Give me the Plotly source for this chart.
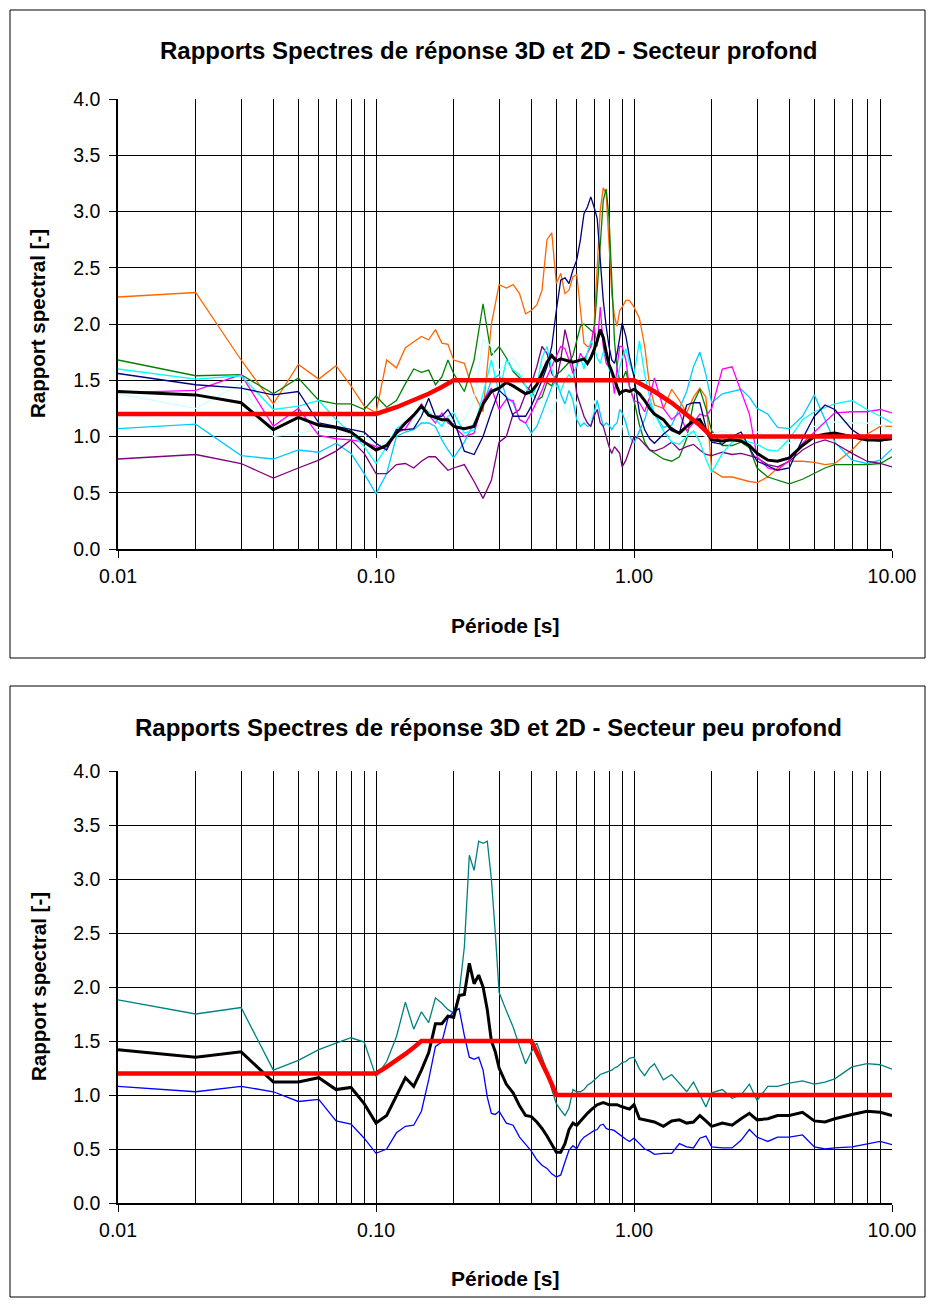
import plotly.graph_objects as go

# ---------------- DATA ----------------
P_TOP = [0.01,0.02,0.03,0.04,0.05,0.06,0.07,0.08,0.09,0.10,
         0.11,0.12,0.13,0.14,0.15,0.16,0.17,0.18,0.19,0.20,
         0.22,0.24,0.26,0.28,0.30,0.32,0.34,0.36,0.38,0.40,
         0.42,0.44,0.46,0.48,0.50,0.52,0.54,0.56,0.58,0.60,
         0.62,0.64,0.66,0.68,0.70,0.72,0.74,0.76,0.78,0.80,
         0.82,0.84,0.86,0.88,0.90,0.93,0.96,1.00,
         1.05,1.10,1.15,1.20,1.30,1.40,1.50,1.60,1.70,1.80,1.90,2.00,
         2.20,2.40,2.60,2.80,3.00,3.30,3.60,4.00,4.50,5.00,5.50,6.00,7.00,8.00,9.00,10.0]

TOP_ORANGE = [2.24,2.28,1.68,1.29,1.64,1.51,1.63,1.45,1.27,1.21,
              1.68,1.61,1.79,1.84,1.89,1.86,1.95,1.83,1.82,1.68,
              1.65,1.38,1.22,2.00,2.35,2.32,2.35,2.27,2.09,2.12,
              2.17,2.30,2.75,2.81,2.36,2.45,2.27,2.30,2.42,2.44,
              2.15,1.83,1.80,1.80,1.98,2.57,3.01,3.21,3.16,2.72,
              2.27,2.07,1.98,2.12,2.15,2.21,2.21,2.15,
              2.05,1.80,1.45,1.28,1.25,1.42,1.32,1.21,1.35,1.43,1.35,0.70,
              0.64,0.64,0.62,0.60,0.59,0.64,0.72,0.78,0.78,0.77,0.75,0.76,0.88,1.02,1.09,1.09]
TOP_GREEN = [1.68,1.54,1.55,1.38,1.52,1.32,1.29,1.29,1.24,1.36,
             1.26,1.32,1.47,1.60,1.57,1.59,1.46,1.53,1.68,1.56,
             1.40,1.68,2.18,1.72,1.80,1.70,1.58,1.52,1.45,1.40,
             1.32,1.35,1.48,1.45,1.55,1.58,1.62,1.66,1.72,1.85,
             1.98,2.00,1.97,1.95,1.92,2.30,2.70,3.10,3.20,2.95,
             2.40,1.85,1.60,1.50,1.50,1.58,1.45,1.32,
             1.10,0.95,0.88,0.85,0.80,0.78,0.82,0.98,1.30,1.42,1.25,1.05,
             0.92,0.92,0.95,0.90,0.72,0.64,0.61,0.58,0.62,0.67,0.72,0.75,0.75,0.75,0.76,0.82]
TOP_NAVY = [1.56,1.46,1.43,1.37,1.40,1.12,1.09,1.06,1.04,0.94,
            0.88,1.06,1.06,1.07,1.18,1.34,1.18,1.18,1.24,1.15,
            0.87,0.84,1.00,1.22,1.41,1.35,1.18,1.18,1.18,1.27,
            1.38,1.50,1.62,1.80,2.12,2.39,2.41,2.36,2.48,2.57,
            2.75,2.98,3.04,3.13,3.04,2.94,2.57,2.21,1.98,1.80,
            1.68,1.65,1.74,1.89,2.01,1.89,1.71,1.53,
            1.21,1.06,0.98,0.94,1.02,1.08,1.03,1.28,1.30,1.30,1.08,0.95,
            0.93,1.00,1.04,0.90,0.78,0.74,0.70,0.72,0.98,1.18,1.28,1.24,1.06,0.97,0.96,0.98]
TOP_MAGENTA = [1.39,1.41,1.55,1.09,1.25,1.01,0.98,0.97,0.95,0.91,
               0.89,1.03,1.07,1.18,1.29,1.19,1.12,1.21,1.12,1.09,
               1.00,1.03,1.32,1.43,1.24,1.33,1.32,1.15,1.12,1.21,
               1.32,1.41,1.53,1.62,1.71,1.80,1.78,1.68,1.56,1.62,
               1.74,1.68,1.74,1.80,1.98,1.80,2.15,1.80,1.65,1.62,
               1.56,1.38,1.62,1.80,1.80,1.68,1.44,1.32,
               1.30,1.22,1.35,1.52,1.25,1.15,1.21,1.05,1.12,1.20,1.18,1.25,
               1.60,1.62,1.40,1.20,0.82,0.72,0.70,0.79,0.94,1.04,1.13,1.21,1.22,1.22,1.24,1.21]
TOP_CYAN = [1.60,1.51,1.54,1.24,1.27,1.32,1.15,1.03,0.91,0.76,
            0.91,1.07,1.13,1.18,1.27,1.22,1.15,1.09,1.18,1.21,
            1.03,1.06,1.38,1.68,1.38,1.68,1.59,1.55,1.45,1.35,
            1.45,1.70,1.80,1.60,1.45,1.40,1.50,1.55,1.50,1.65,
            1.70,1.60,1.75,1.85,1.80,1.70,1.65,1.75,1.72,1.60,
            1.55,1.48,1.52,1.60,1.70,1.78,1.65,1.55,
            1.85,1.55,1.35,1.20,1.05,0.95,0.93,1.00,1.05,0.95,0.80,0.68,
            0.85,0.95,0.98,0.95,0.93,0.88,0.87,0.98,1.15,1.22,1.26,1.29,1.32,1.24,1.18,1.12]
TOP_SKYBLUE = [1.07,1.11,0.83,0.80,0.88,0.86,0.94,0.85,0.67,0.49,
               0.67,1.00,1.04,1.06,1.12,1.12,1.09,0.97,0.88,0.81,
               0.95,1.12,1.28,1.50,1.55,1.35,1.30,1.15,1.12,1.03,
               1.09,1.21,1.32,1.44,1.50,1.38,1.29,1.41,1.32,1.15,
               1.09,1.12,1.09,1.10,1.21,1.32,1.20,1.09,1.12,1.10,
               1.06,1.10,1.12,1.24,1.21,1.12,1.00,0.94,
               1.05,1.15,1.30,1.20,1.08,1.10,1.25,1.40,1.62,1.75,1.55,1.30,
               1.38,1.40,1.42,1.35,1.25,1.20,1.08,1.07,1.18,1.37,1.15,0.95,0.79,0.76,0.79,0.89]
TOP_LIGHTCYAN = [1.38,1.25,1.47,1.00,1.03,1.06,1.03,1.03,1.01,0.91,
                 0.95,1.06,1.12,1.15,1.25,1.20,1.15,1.12,1.18,1.12,
                 1.15,1.32,1.86,1.80,1.59,1.65,1.70,1.62,1.44,1.38,
                 1.32,1.30,1.28,1.20,1.32,1.38,1.24,1.21,1.38,1.29,
                 1.09,1.18,1.12,1.15,1.32,1.24,1.21,1.09,1.00,0.91,
                 0.85,0.85,0.88,0.94,1.09,1.12,1.21,1.38,
                 1.60,1.55,1.35,1.10,1.02,1.00,1.00,1.02,1.05,1.02,1.00,1.02,
                 1.05,1.02,1.00,1.05,1.04,1.00,0.96,0.94,1.03,1.09,1.12,1.13,1.12,1.12,1.10,1.06]
TOP_PURPLE = [0.80,0.84,0.76,0.63,0.72,0.79,0.87,0.97,0.85,0.67,
              0.67,0.75,0.76,0.72,0.78,0.82,0.82,0.76,0.70,0.72,
              0.75,0.60,0.45,0.61,0.95,1.00,1.20,1.24,1.38,1.47,
              1.62,1.80,1.74,1.56,1.50,1.68,1.95,1.80,1.62,1.38,
              1.27,1.18,1.12,1.09,1.18,1.24,1.12,1.09,1.00,0.91,
              0.85,0.91,0.88,0.85,0.73,0.79,0.88,1.00,
              0.98,0.93,0.88,0.87,0.90,0.95,0.88,0.91,0.93,0.88,0.84,0.83,
              0.86,0.84,0.85,0.83,0.81,0.75,0.73,0.78,0.88,0.94,0.97,0.94,0.85,0.78,0.76,0.73]
TOP_MEAN = [1.40,1.37,1.30,1.06,1.17,1.10,1.08,1.04,0.95,0.88,
            0.92,1.03,1.12,1.19,1.27,1.19,1.17,1.15,1.15,1.09,
            1.07,1.09,1.29,1.40,1.43,1.48,1.45,1.41,1.38,1.40,
            1.46,1.56,1.66,1.72,1.67,1.69,1.68,1.67,1.66,1.67,
            1.68,1.69,1.65,1.70,1.77,1.85,1.95,1.88,1.75,1.64,
            1.58,1.50,1.44,1.38,1.40,1.41,1.40,1.42,
            1.38,1.32,1.25,1.20,1.15,1.06,1.03,1.09,1.14,1.15,1.05,0.97,
            0.96,0.97,0.96,0.92,0.85,0.79,0.78,0.81,0.92,1.00,1.02,1.03,1.00,0.97,0.97,0.98]

ENV_TOP_P = [0.01,0.10,0.12,0.14,0.16,0.18,0.20,1.00,1.20,1.40,1.60,1.80,2.00,10.0]
ENV_TOP_V = [1.20,1.20,1.26,1.32,1.38,1.44,1.50,1.50,1.40,1.30,1.20,1.10,1.00,1.00]

P_BOT = [0.01,0.02,0.03,0.04,0.05,0.06,0.07,0.08,0.09,0.10,
         0.11,0.12,0.13,0.14,0.15,0.16,0.17,0.18,0.19,0.20,
         0.21,0.22,0.23,0.24,0.25,0.26,0.27,0.28,0.29,0.30,
         0.32,0.34,0.36,0.38,0.40,0.42,0.44,0.46,0.48,0.50,0.52,0.54,0.56,0.58,0.60,
         0.62,0.64,0.66,0.68,0.70,0.72,0.74,0.76,0.78,0.80,
         0.82,0.84,0.86,0.88,0.90,0.93,0.96,1.00,
         1.05,1.10,1.15,1.20,1.30,1.40,1.50,1.60,1.70,1.80,1.90,2.00,
         2.20,2.40,2.60,2.80,3.00,3.30,3.60,4.00,4.50,5.00,5.50,6.00,7.00,8.00,9.00,10.0]

BOT_TEAL = [1.88,1.75,1.81,1.23,1.32,1.42,1.48,1.53,1.49,1.17,
            1.31,1.54,1.86,1.61,1.77,1.67,1.90,1.85,1.79,1.76,
            1.94,2.37,3.22,3.08,3.35,3.33,3.35,3.00,2.50,1.95,
            1.78,1.63,1.45,1.29,1.40,1.48,1.35,1.22,1.05,0.92,0.86,0.81,0.88,1.05,1.03,
            1.03,1.05,1.09,1.11,1.14,1.16,1.19,1.20,1.21,1.22,
            1.23,1.25,1.26,1.28,1.30,1.31,1.34,1.35,
            1.24,1.18,1.25,1.29,1.14,1.19,1.11,1.03,1.12,1.00,0.89,1.02,
            1.05,0.97,1.00,1.10,0.95,1.08,1.08,1.11,1.13,1.10,1.12,1.15,1.26,1.29,1.28,1.24]
BOT_BLUE = [1.08,1.03,1.08,1.03,0.94,0.96,0.76,0.73,0.60,0.46,
            0.50,0.65,0.71,0.72,0.85,1.14,1.45,1.49,1.71,1.77,
            1.80,1.55,1.35,1.33,1.35,1.23,0.98,0.83,0.82,0.85,
            0.74,0.72,0.61,0.54,0.48,0.40,0.35,0.32,0.27,0.24,0.26,0.38,0.49,0.53,0.50,
            0.57,0.61,0.63,0.65,0.67,0.68,0.72,0.73,0.69,0.68,
            0.68,0.67,0.65,0.63,0.61,0.59,0.57,0.60,
            0.55,0.50,0.48,0.45,0.46,0.46,0.55,0.52,0.51,0.60,0.62,0.52,
            0.51,0.51,0.58,0.68,0.61,0.57,0.61,0.61,0.63,0.52,0.50,0.51,0.52,0.55,0.57,0.54]
BOT_MEAN = [1.42,1.35,1.40,1.12,1.12,1.16,1.05,1.07,0.92,0.74,
            0.81,0.99,1.16,1.08,1.23,1.39,1.66,1.66,1.73,1.72,
            1.92,1.93,2.22,2.03,2.11,2.00,1.79,1.50,1.40,1.25,
            1.10,1.02,0.90,0.81,0.80,0.75,0.69,0.62,0.54,0.47,0.47,0.55,0.68,0.74,0.72,
            0.76,0.79,0.83,0.86,0.89,0.91,0.92,0.93,0.92,0.91,
            0.91,0.91,0.91,0.90,0.89,0.88,0.87,0.91,
            0.78,0.77,0.76,0.75,0.71,0.76,0.77,0.74,0.75,0.81,0.76,0.71,
            0.74,0.72,0.78,0.83,0.77,0.78,0.81,0.81,0.84,0.76,0.75,0.78,0.82,0.85,0.84,0.81]

ENV_BOT_P = [0.01,0.10,0.11,0.12,0.13,0.14,0.15,0.40,0.42,0.44,0.46,0.48,0.50,10.0]
ENV_BOT_V = [1.20,1.20,1.26,1.32,1.38,1.44,1.50,1.50,1.40,1.30,1.20,1.10,1.00,1.00]

X_TICKS = [0.01, 0.1, 1, 10]
X_TICKTEXT = ["0.01", "0.10", "1.00", "10.00"]
Y_TICKS = [0.0, 0.5, 1.0, 1.5, 2.0, 2.5, 3.0, 3.5, 4.0]

TITLE_TOP = "Rapports Spectres de réponse 3D et 2D - Secteur profond"
TITLE_BOT = "Rapports Spectres de réponse 3D et 2D - Secteur peu profond"
XLABEL = "Période [s]"
YLABEL = "Rapport spectral [-]"

# ---------------- FIGURE ----------------
W, H = 936, 1305
OFF = 8  # page body margin compensation
FONT = "Liberation Sans, Arial, sans-serif"

def px(x):
    return (x - OFF) / W

def py(y):
    return 1 - (y - OFF) / H

fig = go.Figure()

top_series = [
    (TOP_ORANGE, "#FF6600"), (TOP_GREEN, "#008000"), (TOP_LIGHTCYAN, "#CCFFFF"),
    (TOP_SKYBLUE, "#00CCFF"), (TOP_PURPLE, "#800080"), (TOP_MAGENTA, "#FF00FF"),
    (TOP_CYAN, "#00FFFF"), (TOP_NAVY, "#000080"),
]
for vals, col in top_series:
    fig.add_trace(go.Scatter(x=P_TOP, y=vals, mode="lines", xaxis="x", yaxis="y",
                             line=dict(color=col, width=1.3), showlegend=False))
fig.add_trace(go.Scatter(x=P_TOP, y=TOP_MEAN, mode="lines", xaxis="x", yaxis="y",
                         line=dict(color="black", width=3), showlegend=False))
fig.add_trace(go.Scatter(x=ENV_TOP_P, y=ENV_TOP_V, mode="lines", xaxis="x", yaxis="y",
                         line=dict(color="#FF0000", width=4.5), showlegend=False))

fig.add_trace(go.Scatter(x=P_BOT, y=BOT_TEAL, mode="lines", xaxis="x2", yaxis="y2",
                         line=dict(color="#008080", width=1.3), showlegend=False))
fig.add_trace(go.Scatter(x=P_BOT, y=BOT_BLUE, mode="lines", xaxis="x2", yaxis="y2",
                         line=dict(color="#0000FF", width=1.3), showlegend=False))
fig.add_trace(go.Scatter(x=P_BOT, y=BOT_MEAN, mode="lines", xaxis="x2", yaxis="y2",
                         line=dict(color="black", width=3), showlegend=False))
fig.add_trace(go.Scatter(x=ENV_BOT_P, y=ENV_BOT_V, mode="lines", xaxis="x2", yaxis="y2",
                         line=dict(color="#FF0000", width=4.5), showlegend=False))

minor_vals = [m * 10 ** e for e in (-2, -1, 0) for m in range(2, 10)]

def xax(anchor):
    return dict(type="log", range=[-2, 1], anchor=anchor, automargin=False,
                domain=[px(118), px(892)],
                tickmode="array", tickvals=X_TICKS, ticktext=X_TICKTEXT,
                ticks="outside", ticklen=7, tickcolor="black", tickwidth=1,
                showgrid=True, gridcolor="black", gridwidth=1,
                minor=dict(tickmode="array", tickvals=minor_vals, showgrid=True,
                           gridcolor="black", gridwidth=1, ticks=""),
                showline=True, linecolor="black", linewidth=2,
                zeroline=False, tickfont=dict(family=FONT, size=19.5, color="black"),
                ticklabelstandoff=2)

def yax(anchor, dom):
    return dict(range=[0, 4], anchor=anchor, domain=dom, automargin=False,
                tickmode="array", tickvals=Y_TICKS, tickformat=".1f",
                ticks="outside", ticklen=7, tickcolor="black", tickwidth=1,
                showgrid=True, gridcolor="black", gridwidth=1,
                showline=True, linecolor="black", linewidth=1.5,
                zeroline=False, tickfont=dict(family=FONT, size=19.5, color="black"),
                ticklabelstandoff=5)

top_dom = [py(549), py(99)]
bot_dom = [py(1203), py(771)]

fig.update_layout(
    template="none",
    width=W, height=H, margin=dict(l=0, r=0, t=0, b=0, pad=0, autoexpand=False),
    paper_bgcolor="white", plot_bgcolor="white",
    xaxis=xax("y"), yaxis=yax("x", top_dom),
    xaxis2=xax("y2"), yaxis2=yax("x2", bot_dom),
    showlegend=False,
)

shapes = []
for (y0, y1) in [(10, 658), (686, 1297)]:
    shapes.append(dict(type="rect", xref="paper", yref="paper",
                       x0=px(10), x1=px(925), y0=py(y1), y1=py(y0),
                       line=dict(color="black", width=1), fillcolor="rgba(0,0,0,0)",
                       layer="below"))
fig.update_layout(shapes=shapes)

ann = []
for title, ty, xl_y, plot_top, plot_bot in [
        (TITLE_TOP, 50, 625, 99, 549), (TITLE_BOT, 727, 1278, 771, 1203)]:
    ann.append(dict(text="<b>%s</b>" % title, x=px(489), y=py(ty), xref="paper", yref="paper",
                    showarrow=False, xanchor="center", yanchor="middle",
                    font=dict(family=FONT, size=24, color="black")))
    ann.append(dict(text="<b>%s</b>" % XLABEL, x=px(505), y=py(xl_y), xref="paper", yref="paper",
                    showarrow=False, xanchor="center", yanchor="middle",
                    font=dict(family=FONT, size=21, color="black")))
    ann.append(dict(text="<b>%s</b>" % YLABEL, x=px(38), y=py((plot_top + plot_bot) / 2),
                    xref="paper", yref="paper", textangle=-90,
                    showarrow=False, xanchor="center", yanchor="middle",
                    font=dict(family=FONT, size=20.5, color="black")))
fig.update_layout(annotations=ann)

fig.write_html("out.html")
